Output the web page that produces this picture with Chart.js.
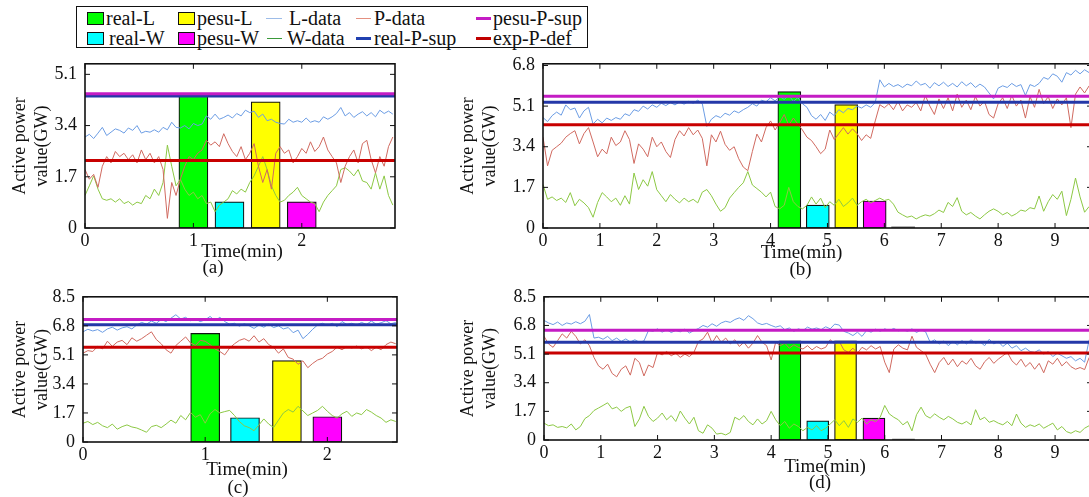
<!DOCTYPE html>
<html>
<head>
<meta charset="utf-8">
<script src="https://cdn.jsdelivr.net/npm/chart.js@4.4.1/dist/chart.umd.min.js"></script>
<style>
  html, body { margin: 0; padding: 0; width: 1089px; height: 497px; overflow: hidden; background: #fff; }
  canvas { position: absolute; }
  #legend { position: absolute; left: 76px; top: 6px; width: 510px; height: 40px; border: 1.5px solid #111;
            font-family: "Liberation Serif", "Times New Roman", serif; font-size: 20px; color: #111; }
  .item { position: absolute; display: flex; align-items: center; height: 22px; line-height: 22px; white-space: nowrap; }
  .box { display: inline-block; width: 15px; height: 11px; border: 1.5px solid #111; }
  .ln { display: inline-block; height: 0; }
</style>
</head>
<body>
<div id="legend">
  <div class="item" style="left:10px;top:0px"><span class="box" style="background:#00ff00;margin-right:2px"></span>real-L</div>
  <div class="item" style="left:101px;top:0px"><span class="box" style="background:#ffff00;margin-right:2px"></span>pesu-L</div>
  <div class="item" style="left:189px;top:0px"><span class="ln" style="width:16px;border-top:1.5px solid #9dbce8;margin-right:7px"></span>L-data</div>
  <div class="item" style="left:279px;top:0px"><span class="ln" style="width:15px;border-top:1.5px solid #e49080;margin-right:3px"></span>P-data</div>
  <div class="item" style="left:399px;top:0px"><span class="ln" style="width:15px;border-top:3px solid #c41cc4;margin-right:2px"></span>pesu-P-sup</div>
  <div class="item" style="left:10px;top:20px"><span class="box" style="background:#00ffff;margin-right:5px"></span>real-W</div>
  <div class="item" style="left:101px;top:20px"><span class="box" style="background:#ff00ff;margin-right:2px"></span>pesu-W</div>
  <div class="item" style="left:190px;top:20px"><span class="ln" style="width:15px;border-top:1.5px solid #3a9a3a;margin-right:5px"></span>W-data</div>
  <div class="item" style="left:279px;top:20px"><span class="ln" style="width:15px;border-top:3px solid #2040b0;margin-right:3px"></span>real-P-sup</div>
  <div class="item" style="left:399px;top:20px"><span class="ln" style="width:15px;border-top:3px solid #c00000;margin-right:2px"></span>exp-P-def</div>
</div>
<canvas id="ca" width="410" height="235" style="left:0px;top:45px"></canvas>
<canvas id="cb" width="660" height="235" style="left:440px;top:45px"></canvas>
<canvas id="cc" width="410" height="219" style="left:0px;top:278px"></canvas>
<canvas id="cd" width="660" height="219" style="left:440px;top:278px"></canvas>
<script>
// ---- panel (a): sampled every 0.04 min ----
const aStep = 0.04;
const aL = [3.02,3.11,2.97,3.15,3.34,3.07,3.18,3.29,3.24,3.15,
            3.32,3.24,3.40,3.15,3.21,3.18,3.26,3.18,3.34,3.26,
            3.51,3.34,3.32,3.40,3.29,3.47,3.40,3.45,3.72,3.61,
            3.78,3.61,3.67,3.75,3.65,3.80,3.72,3.91,3.83,3.88,
            3.67,3.78,3.56,3.61,3.51,3.47,3.45,3.61,3.51,3.56,
            3.51,3.65,3.51,3.56,3.51,3.69,3.61,3.69,3.80,4.00,
            3.72,3.83,3.67,3.78,3.86,3.72,3.83,3.69,3.91,3.80,
            3.88,3.78];
const aP = [1.94,1.62,1.78,1.35,2.05,2.37,2.16,2.54,2.37,2.48,
            2.27,2.43,2.16,2.59,2.27,2.48,2.16,2.37,1.94,0.32,
            1.51,1.08,1.62,2.05,2.37,2.27,2.48,2.59,2.91,2.75,
            2.86,2.70,3.13,2.80,2.54,2.37,2.70,2.27,2.48,2.80,
            2.05,1.51,1.94,1.29,2.48,2.70,2.48,2.59,2.16,2.37,
            2.64,2.48,2.86,2.54,2.70,3.02,2.59,2.37,2.16,1.51,
            2.05,2.37,2.59,2.16,2.80,2.91,2.27,1.83,2.37,2.05,
            2.70,3.02];
const aW = [1.08,1.40,1.73,1.29,0.97,0.92,0.97,0.86,0.97,0.81,
            0.88,0.76,0.86,0.81,1.08,0.97,1.29,1.08,1.51,2.75,
            2.05,1.40,1.62,1.29,1.08,1.19,0.97,1.08,0.81,0.86,
            0.54,0.76,0.86,0.97,1.24,1.13,1.29,1.19,1.51,1.73,
            2.05,2.37,1.94,1.40,1.08,0.86,0.92,1.08,1.19,1.35,
            1.08,0.97,0.86,0.81,0.54,0.86,1.08,1.24,1.40,1.94,
            2.00,1.89,1.73,1.94,1.56,1.51,1.29,1.83,1.29,1.73,
            1.08,0.76];
const aBarTimes = [1, 1.333, 1.667, 2];
const aBars = [4.38, 0.87, 4.19, 0.87];          // real-L, real-W, pesu-L, pesu-W
const aLevels = [4.46, 4.38, 2.24];              // pesu-P-sup, real-P-sup, exp-P-def
const aYTicks = [0, 1.7, 3.4, 5.1];
const aXTicks = [0, 1, 2];

// ---- panel (b): sampled every 0.08 min ----
const bStep = 0.08;
const bL = [4.62,4.45,4.70,4.85,4.72,5.15,4.95,5.02,4.60,4.90,
            5.05,4.35,4.55,4.40,4.60,4.50,4.62,4.55,4.78,4.70,
            4.95,4.88,5.10,4.98,5.15,5.05,5.22,5.12,5.25,5.15,
            5.28,5.18,5.30,5.22,5.35,5.20,4.25,4.55,4.70,4.62,
            4.80,4.72,4.90,4.82,4.95,5.05,5.20,5.10,5.35,5.28,
            5.45,5.32,5.50,5.38,5.55,5.30,5.45,5.20,5.05,4.70,
            4.55,4.75,4.50,4.85,4.70,4.95,4.82,5.00,4.95,5.10,
            5.02,5.15,5.05,5.25,6.20,5.90,6.05,5.92,6.00,5.88,
            6.02,5.95,6.15,5.98,6.05,5.85,6.08,5.95,6.10,5.92,
            6.05,5.90,6.12,5.95,6.08,5.88,6.02,5.90,5.65,5.40,
            5.85,5.95,5.88,6.05,5.92,6.00,5.55,6.00,5.92,6.05,
            6.30,6.22,6.45,6.35,6.10,6.50,6.40,6.60,6.45,6.62,
            6.50];
const bP = [3.80,2.60,3.25,3.40,3.55,3.80,3.95,4.07,3.52,3.95,
            4.20,3.60,2.98,3.30,3.10,3.80,3.45,3.60,4.07,3.70,
            2.70,3.52,3.30,2.98,3.80,3.40,3.60,3.20,2.95,3.70,
            4.07,3.85,4.20,3.90,4.10,3.75,2.60,3.90,3.60,4.05,
            3.50,3.25,3.40,2.90,2.55,2.40,3.20,3.93,3.60,4.20,
            4.48,4.10,4.40,4.75,4.30,4.60,4.35,4.10,3.80,3.66,
            3.40,3.11,3.30,4.10,3.70,3.95,4.20,3.93,4.15,3.95,
            3.66,3.90,3.75,4.48,5.16,5.03,5.20,4.95,5.30,4.90,
            5.15,5.05,5.25,4.90,5.55,5.10,4.75,5.40,5.00,5.45,
            4.90,5.60,5.05,5.35,4.95,5.50,5.10,5.30,4.75,4.60,
            5.20,5.45,5.00,5.55,5.10,5.35,4.60,5.50,5.05,5.80,
            5.20,5.50,5.00,5.40,5.15,5.45,4.20,5.60,5.90,5.65,
            5.95];
const bW = [1.82,1.20,1.30,1.15,1.25,1.07,1.48,0.93,1.20,1.05,
            0.85,0.45,1.07,1.48,1.30,1.10,1.25,0.95,1.35,1.00,
            2.30,1.61,2.02,1.75,2.36,1.60,1.35,1.10,1.40,1.20,
            1.05,1.25,1.10,1.20,1.05,1.50,1.61,1.35,1.00,0.70,
            0.85,1.25,1.48,1.70,1.89,2.36,1.80,1.65,1.50,1.30,
            1.50,0.90,0.80,0.95,1.70,1.10,0.90,0.80,0.95,1.30,
            1.00,1.25,0.85,1.10,0.95,1.20,0.90,1.05,1.25,0.95,
            1.10,1.20,1.05,1.15,1.25,1.15,1.20,1.00,0.66,0.55,
            0.45,0.50,0.38,0.48,0.55,0.50,0.60,0.75,0.65,1.07,
            0.90,1.27,0.70,0.55,0.65,0.50,0.38,0.55,0.70,0.80,
            0.70,0.55,0.65,0.50,0.60,0.75,0.70,0.85,0.80,1.34,
            0.70,1.10,1.40,1.20,1.54,0.52,1.20,2.09,1.30,0.66,
            0.90];
const bBarTimes = [4.33, 4.83, 5.33, 5.83, 6.33];
const bBars = [5.71, 0.96, 5.16, 1.13, 0.05];
const bLevels = [5.51, 5.26, 4.32];
const bYTicks = [0, 1.7, 3.4, 5.1, 6.8];
const bXTicks = [0, 1, 2, 3, 4, 5, 6, 7, 8, 9];

// ---- panel (c): sampled every 0.04 min ----
const cStep = 0.04;
const cL = [6.45,6.60,6.50,6.58,6.42,6.62,6.72,6.55,6.68,6.75,
            6.62,6.85,7.00,6.90,7.08,6.95,7.17,7.05,7.25,7.45,
            7.20,7.30,7.10,7.20,7.05,7.15,7.35,7.10,7.30,7.05,
            6.90,6.95,6.78,6.92,6.80,6.65,6.85,6.72,6.90,6.70,
            6.80,6.62,6.70,6.40,6.55,6.05,6.30,6.60,6.85,6.95,
            6.82,6.95,6.75,7.05,6.88,6.95,6.85,7.00,6.88,7.08,
            6.90,6.98,7.10,6.92,7.00];
const cP = [5.20,5.35,5.30,5.60,5.45,5.90,5.60,5.85,5.95,5.70,
            6.10,5.90,6.05,6.25,6.45,6.00,5.75,5.40,5.20,5.65,
            5.90,6.15,5.80,5.65,5.95,5.90,5.70,5.45,5.30,5.10,
            5.50,5.75,5.95,6.05,5.90,6.22,5.85,6.05,5.70,5.55,
            5.20,5.45,4.95,4.85,4.55,4.75,4.35,4.60,4.80,4.90,
            5.15,5.30,5.55,5.40,5.60,5.50,5.62,5.45,5.58,5.35,
            5.55,5.40,5.70,5.85,5.75];
const cW = [1.10,1.20,1.02,1.15,0.95,0.84,1.05,0.75,0.90,1.00,
            0.88,0.82,0.70,0.57,0.90,0.98,0.84,1.05,1.28,1.10,
            1.55,1.30,1.73,1.45,1.60,1.10,1.65,1.90,1.70,1.78,
            1.85,1.55,1.20,0.95,0.84,0.66,1.00,1.35,1.05,0.85,
            1.28,1.70,1.90,1.75,2.09,1.82,1.55,1.70,1.85,2.09,
            1.80,1.55,1.40,1.65,1.80,1.50,1.70,1.60,1.90,1.75,
            1.55,1.40,1.15,1.30,1.20];
const cBarTimes = [1, 1.326, 1.669, 2];
const cBars = [6.36, 1.42, 4.76, 1.48];
const cLevels = [7.17, 6.86, 5.54];
const cYTicks = [0, 1.7, 3.4, 5.1, 6.8, 8.5];
const cXTicks = [0, 1, 2];

// ---- panel (d): sampled every 0.08 min ----
const dStep = 0.08;
const dL = [7.10,6.95,6.85,7.00,6.80,6.95,6.88,7.02,6.90,7.05,
            7.45,6.05,6.10,5.98,6.15,5.90,6.05,5.85,6.00,5.82,
            5.95,5.80,5.88,6.50,6.45,6.60,6.40,6.55,6.38,6.50,
            6.42,6.58,6.35,6.50,6.62,6.80,6.70,6.90,6.75,6.95,
            7.05,6.98,7.15,7.25,7.10,7.38,7.20,6.95,6.85,6.92,
            6.80,6.70,6.78,6.55,6.65,6.45,6.60,6.50,6.70,6.58,
            6.65,6.55,6.72,6.60,6.88,6.82,6.45,6.35,6.20,6.40,
            6.15,6.50,6.40,6.58,6.45,6.60,6.50,6.62,6.48,6.55,
            6.45,6.60,6.38,6.55,6.42,5.80,5.95,5.70,5.88,5.60,
            5.85,5.65,5.90,5.70,5.95,5.75,5.82,5.60,5.98,5.70,
            5.85,5.55,5.75,5.45,5.60,5.30,5.45,5.25,5.20,5.35,
            5.10,5.25,4.95,5.15,5.00,4.85,4.95,4.70,4.85,4.62,
            5.95];
const dP = [6.16,5.70,5.50,5.90,6.30,6.05,6.45,6.15,5.70,5.95,
            5.60,4.90,4.40,4.20,4.50,3.95,3.75,4.20,4.40,3.85,
            4.85,4.60,3.80,4.45,4.30,5.20,5.05,5.25,5.00,5.15,
            4.90,5.10,4.95,5.20,5.85,6.00,6.40,5.75,6.20,5.80,
            6.05,5.70,5.95,5.55,5.80,5.45,5.75,6.20,5.80,5.60,
            4.75,5.80,5.60,5.75,5.45,5.65,5.50,5.40,5.60,5.35,
            5.55,5.40,5.50,5.95,5.70,5.85,5.35,5.20,5.45,5.15,
            5.50,5.35,5.60,5.40,5.55,4.62,4.00,5.40,5.65,5.45,
            5.35,6.16,5.50,5.30,5.10,4.50,4.00,4.60,4.90,4.45,
            4.80,4.35,4.70,4.50,4.85,4.40,4.20,4.65,4.90,4.55,
            4.80,5.00,5.20,4.70,4.45,4.80,4.35,4.60,4.20,4.55,
            3.99,4.70,4.50,4.85,4.40,4.65,4.35,4.20,4.30,4.18,
            4.90];
const dW = [1.00,0.85,0.90,0.75,0.80,0.72,0.95,0.60,0.80,1.27,
            1.45,1.75,1.90,2.05,2.21,1.85,1.95,1.70,1.90,2.00,
            0.80,1.25,2.00,1.40,1.10,1.30,1.60,1.20,1.45,1.10,
            1.72,1.30,0.95,1.35,0.55,0.40,0.90,0.70,0.35,0.40,
            0.30,0.45,1.35,1.20,1.45,1.10,0.90,1.25,0.95,1.15,
            1.70,1.20,0.85,1.10,0.70,0.95,0.80,0.55,0.75,0.60,
            0.85,0.55,0.70,0.95,1.20,0.85,1.15,0.75,1.25,1.05,
            1.30,0.95,1.20,1.10,1.35,2.05,1.55,1.35,1.20,0.90,
            1.10,0.54,1.50,1.95,1.45,1.30,1.55,1.35,1.20,1.40,
            1.25,1.05,0.95,1.10,0.90,1.80,1.20,1.35,1.05,1.15,
            1.00,0.90,1.10,0.85,1.54,1.00,0.75,0.90,0.80,0.95,
            0.70,0.85,1.00,0.60,0.80,0.50,0.40,0.55,0.45,0.70,
            0.85];
const dBarTimes = [4.33, 4.82, 5.31, 5.81, 6.33];
const dBars = [5.89, 1.14, 5.89, 1.30, 0.05];
const dLevels = [6.52, 5.80, 5.16];
const dYTicks = [0, 1.7, 3.4, 5.1, 6.8, 8.5];
const dXTicks = [0, 1, 2, 3, 4, 5, 6, 7, 8, 9];

// ---- shared styling ----
const SERIF = '"Liberation Serif", "Times New Roman", serif';
Chart.defaults.font.family = SERIF;
Chart.defaults.color = '#111';

const barNames  = ['real-L', 'real-W', 'pesu-L', 'pesu-W', ''];
const barColors = ['#00ff00', '#00ffff', '#ffff00', '#ff00ff', '#6e6e6e'];
const levelNames  = ['pesu-P-sup', 'real-P-sup', 'exp-P-def'];
const levelColors = ['#c41cc4', '#2438a8', '#c80000'];

function timeSeries(values, step) {
  return values.map((v, i) => ({ x: Math.round(i * step * 1000) / 1000, y: v }));
}

// box around the plot area with inward tick marks on all four sides
const framePlugin = {
  id: 'frame',
  afterDatasetsDraw(chart) {
    const { ctx, chartArea: { left, right, top, bottom }, scales: { x, y } } = chart;
    const len = 5;
    ctx.save();
    ctx.strokeStyle = '#111';
    ctx.lineWidth = 1;
    ctx.beginPath();
    x.ticks.forEach(t => {
      const px = x.getPixelForValue(t.value);
      ctx.moveTo(px, bottom); ctx.lineTo(px, bottom - len);
      ctx.moveTo(px, top);    ctx.lineTo(px, top + len);
    });
    y.ticks.forEach(t => {
      const py = y.getPixelForValue(t.value);
      ctx.moveTo(left, py);  ctx.lineTo(left + len, py);
      ctx.moveTo(right, py); ctx.lineTo(right - len, py);
    });
    ctx.stroke();
    ctx.lineWidth = 1.6;
    ctx.strokeRect(left, top, right - left, bottom - top);
    ctx.restore();
  }
};

// "Time(min)" and the panel tag under each plot
const captionPlugin = {
  id: 'captions',
  afterDraw(chart, args, opts) {
    const { ctx, chartArea: { left, right, bottom } } = chart;
    const cx = (left + right) / 2;
    ctx.save();
    ctx.fillStyle = '#111';
    ctx.font = '19px ' + SERIF;
    ctx.textAlign = 'center';
    ctx.textBaseline = 'middle';
    ctx.fillText('Time(min)', cx + opts.titleDx, bottom + opts.titleDy);
    ctx.fillText(opts.tag, cx + opts.tagDx, bottom + opts.tagDy);
    ctx.restore();
  }
};

function buildPanel(p) {
  const datasets = [];
  p.barTimes.forEach((t, k) => {
    datasets.push({
      type: 'bar', label: barNames[k], data: [{ x: t, y: p.bars[k] }],
      backgroundColor: barColors[k], borderColor: k < 4 ? '#111' : '#6e6e6e',
      borderWidth: k < 4 ? 1.2 : 0, borderSkipped: false,
      barThickness: p.barW, grouped: false, order: 10
    });
  });
  datasets.push({ type: 'line', label: 'W-data', data: timeSeries(p.W, p.step), borderColor: '#8cc844', borderWidth: 1, pointRadius: 0, order: 6 });
  datasets.push({ type: 'line', label: 'L-data', data: timeSeries(p.L, p.step), borderColor: '#6c9de4', borderWidth: 1, pointRadius: 0, order: 5 });
  datasets.push({ type: 'line', label: 'P-data', data: timeSeries(p.P, p.step), borderColor: '#d06a60', borderWidth: 1, pointRadius: 0, order: 4 });
  [2, 1, 0].forEach((k, j) => {
    datasets.push({
      type: 'line', label: levelNames[k],
      data: [{ x: 0, y: p.levels[k] }, { x: p.xMax, y: p.levels[k] }],
      borderColor: levelColors[k], borderWidth: 3, pointRadius: 0, order: 3 - j
    });
  });

  const tickFont = { family: SERIF, size: 18 };
  new Chart(document.getElementById(p.id), {
    type: 'line',
    data: { datasets },
    plugins: [framePlugin, captionPlugin],
    options: {
      responsive: false, animation: false, devicePixelRatio: 1,
      layout: { padding: { top: p.padTop, right: p.padRight, left: 0, bottom: 0 } },
      plugins: {
        legend: { display: false }, tooltip: { enabled: false },
        captions: { tag: p.tag, titleDx: p.titleDx, titleDy: p.titleDy, tagDx: p.tagDx, tagDy: p.tagDy }
      },
      scales: {
        x: {
          type: 'linear', min: 0, max: p.xMax, offset: false,
          grid: { display: false, drawTicks: false, offset: false }, border: { display: false },
          afterBuildTicks: s => { s.ticks = p.xTicks.map(v => ({ value: v })); },
          ticks: { font: tickFont, color: '#111', padding: 2, maxRotation: 0, autoSkip: false, callback: v => String(v) },
          afterFit: s => { s.height = p.xH; }
        },
        y: {
          type: 'linear', min: 0, max: p.yMax,
          grid: { display: false, drawTicks: false }, border: { display: false },
          afterBuildTicks: s => { s.ticks = p.yTicks.map(v => ({ value: v })); },
          ticks: { font: tickFont, color: '#111', padding: 8, autoSkip: false, callback: v => String(v) },
          title: { display: true, text: ['Active power', 'value(GW)'], color: '#111',
                   font: { family: SERIF, size: 18, lineHeight: 1.22 }, padding: { top: p.titlePad, bottom: 0 } },
          afterFit: s => { s.width = p.yW; }
        }
      }
    }
  });
}

buildPanel({ id: 'ca', L: aL, P: aP, W: aW, step: aStep, barTimes: aBarTimes, bars: aBars, levels: aLevels,
  yTicks: aYTicks, xTicks: aXTicks, xMax: 2.86, yMax: 5.45, barW: 29,
  padTop: 15, padRight: 15, yW: 85, xH: 52, titlePad: 9,
  tag: '(a)', titleDx: 2, titleDy: 24, tagDx: -27, tagDy: 40 });

buildPanel({ id: 'cb', L: bL, P: bP, W: bW, step: bStep, barTimes: bBarTimes, bars: bBars, levels: bLevels,
  yTicks: bYTicks, xTicks: bXTicks, xMax: 9.65, yMax: 6.87, barW: 23,
  padTop: 15, padRight: 8, yW: 103, xH: 52, titlePad: 17,
  tag: '(b)', titleDx: -16, titleDy: 25, tagDx: -17, tagDy: 42 });

buildPanel({ id: 'cc', L: cL, P: cP, W: cW, step: cStep, barTimes: cBarTimes, bars: cBars, levels: cLevels,
  yTicks: cYTicks, xTicks: cXTicks, xMax: 2.57, yMax: 8.5, barW: 29,
  padTop: 5, padRight: 13, yW: 83, xH: 55, titlePad: 9,
  tag: '(c)', titleDx: 7, titleDy: 28, tagDx: -2, tagDy: 46 });

buildPanel({ id: 'cd', L: dL, P: dP, W: dW, step: dStep, barTimes: dBarTimes, bars: dBars, levels: dLevels,
  yTicks: dYTicks, xTicks: dXTicks, xMax: 9.65, yMax: 8.5, barW: 22,
  padTop: 5, padRight: 8, yW: 104, xH: 57, titlePad: 17,
  tag: '(d)', titleDx: 7, titleDy: 27, tagDx: 2, tagDy: 43 });
</script>
</body>
</html>
